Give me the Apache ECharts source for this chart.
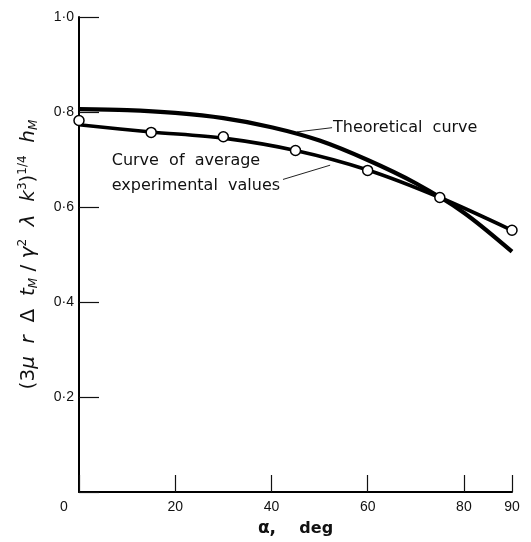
<!DOCTYPE html>
<html>
<head>
<meta charset="utf-8">
<script src="https://cdn.jsdelivr.net/npm/echarts@6/dist/echarts.min.js"></script>
<style>html,body{margin:0;padding:0;background:#fff;}#c{width:531px;height:542px;}</style>
</head>
<body>
<div id="c"></div>
<script>
// Data
const angles = [0, 15, 30, 45, 60, 75, 90];
const experimentalPoints = [0.782, 0.757, 0.748, 0.719, 0.677, 0.620, 0.551];
const averageCurve = [0.773, 0.758, 0.745, 0.719, 0.678, 0.620, 0.551];
const theoryAngles = [0, 10, 20, 30, 40, 50, 60, 70, 80, 90];
const theoreticalCurve = [0.806, 0.804, 0.798, 0.787, 0.768, 0.740, 0.699, 0.650, 0.588, 0.506];
const xTicks = [0, 20, 40, 60, 80, 90];
const yTicks = [0, 0.2, 0.4, 0.6, 0.8, 1.0];

const chart = echarts.init(document.getElementById('c'));
const pair = (xs, ys) => xs.map((x, i) => [x, ys[i]]);
const F = 'DejaVu Sans';
const LH = 28;
const yRich = {
  n: {fontFamily: F, fontSize: 20, color: '#111', lineHeight: LH},
  i: {fontFamily: F, fontSize: 20, fontStyle: 'italic', color: '#111', lineHeight: LH},
  sub: {fontFamily: F, fontSize: 12, fontStyle: 'italic', color: '#111', lineHeight: LH, verticalAlign: 'bottom', padding: [0, 0, 3, 0]},
  sup: {fontFamily: F, fontSize: 12, color: '#111', lineHeight: LH, verticalAlign: 'top', padding: [2, 0, 0, 0]}
};

const option = {
  backgroundColor: '#fff',
  animation: false,
  grid: {left: 79, right: 19, top: 17, bottom: 49, containLabel: false},
  xAxis: {
    type: 'value', min: 0, max: 90, interval: 20,
    axisLine: {show: true, lineStyle: {color: '#000', width: 2}},
    axisTick: {show: true, inside: true, length: 17, lineStyle: {color: '#111', width: 1.2}},
    splitLine: {show: false},
    axisLabel: {
      margin: 8, fontFamily: 'Liberation Sans', fontSize: 14, color: '#111',
      formatter: v => v === 0 ? '{z|0}' : String(v),
      rich: {z: {fontFamily: 'Liberation Sans', fontSize: 14, color: '#111', padding: [0, 30, 0, 0]}}
    },
    name: '{a|α,}       {d|deg}',
    nameLocation: 'middle', nameGap: 28,
    nameTextStyle: {
      rich: {
        a: {fontFamily: F, fontSize: 17, fontWeight: 'bold', color: '#111'},
        d: {fontFamily: F, fontSize: 16, fontWeight: 'bold', color: '#111'}
      }
    }
  },
  yAxis: {
    type: 'value', min: 0, max: 1.0, interval: 0.2,
    axisLine: {show: true, lineStyle: {color: '#000', width: 2}},
    axisTick: {show: true, inside: true, length: 20, lineStyle: {color: '#111', width: 1.2}},
    splitLine: {show: false},
    axisLabel: {
      margin: 5, fontFamily: 'Liberation Sans', fontSize: 14, color: '#111',
      formatter: v => v === 0 ? '' : v.toFixed(1).replace('.', '·')
    },
    name: '{n|(3}{i|μ  r  }{n|Δ  }{i|t}{sub|M}{n| / }{i|γ}{sup|2}{i|  λ  k}{sup|3}{n|)}{sup|1/4}{i|  h}{sub|M}',
    nameLocation: 'middle', nameGap: 34, nameRotate: 90,
    nameTextStyle: {rich: yRich}
  },
  series: [
    {
      name: 'Theoretical', type: 'line', data: pair(theoryAngles, theoreticalCurve),
      smooth: 0.3, showSymbol: false, lineStyle: {color: '#000', width: 4.2}, z: 2
    },
    {
      name: 'Average curve', type: 'line', data: pair(angles, averageCurve),
      smooth: 0.3, showSymbol: false, lineStyle: {color: '#000', width: 3.6}, z: 2
    },
    {
      name: 'Experimental', type: 'scatter', data: pair(angles, experimentalPoints),
      symbol: 'circle', symbolSize: 10,
      itemStyle: {color: '#fff', borderColor: '#000', borderWidth: 1.5, opacity: 1}, z: 5
    }
  ]
};
chart.setOption(option);

// Annotations anchored in data coordinates
const px = p => chart.convertToPixel({gridIndex: 0}, p);
const tStart = px([45.3, 0.758]), tEnd = px([52.6, 0.767]);
const eStart = px([42.4, 0.658]), eEnd = px([52.2, 0.688]);
const tText = px([52.8, 0.767]);
const c1 = px([6.8, 0.697]), c2 = px([6.8, 0.645]);
const txt = (pos, s) => ({type: 'text', x: pos[0], y: pos[1],
  style: {text: s, fontFamily: F, fontSize: 16, fill: '#111', align: 'left', verticalAlign: 'middle'}});
chart.setOption({
  graphic: [
    {type: 'line', shape: {x1: tStart[0], y1: tStart[1], x2: tEnd[0], y2: tEnd[1]}, style: {stroke: '#222', lineWidth: 1}},
    {type: 'line', shape: {x1: eStart[0], y1: eStart[1], x2: eEnd[0], y2: eEnd[1]}, style: {stroke: '#222', lineWidth: 1}},
    txt(tText, 'Theoretical  curve'),
    txt(c1, 'Curve  of  average'),
    txt(c2, 'experimental  values')
  ]
});
</script>
</body>
</html>
